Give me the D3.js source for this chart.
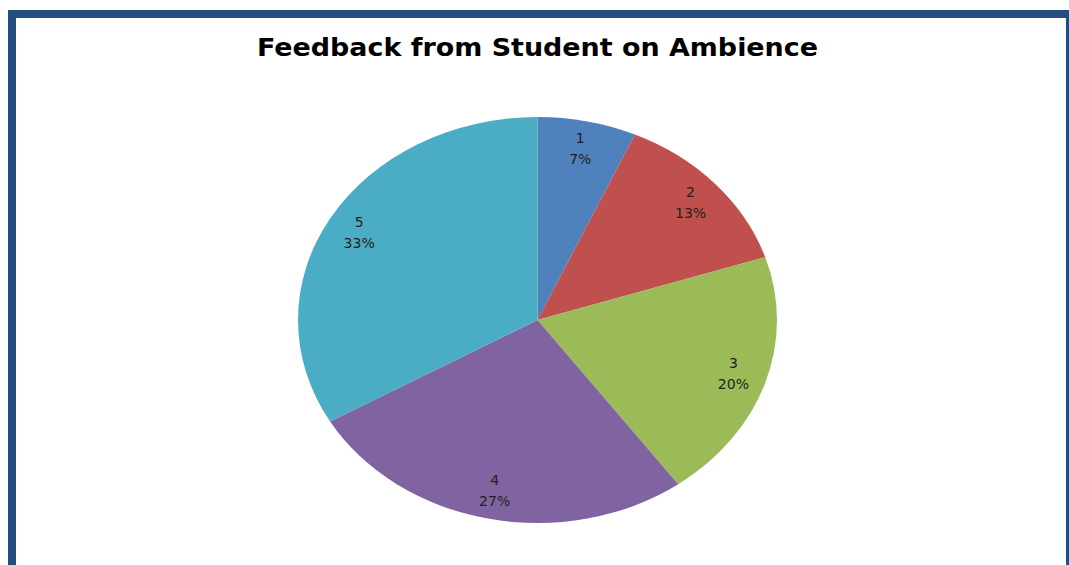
<!DOCTYPE html>
<meta charset="utf-8">
<script src="https://d3js.org/d3.v7.min.js"></script>
<style>
  body { margin: 0; background: #fff; }
</style>
<div id="chart"></div>
<script>
// ratings and how many students picked each
var ratings = ["1", "2", "3", "4", "5"];
var counts = [1, 2, 3, 4, 5];
var colors = ["#4F81BD", "#C0504D", "#9BBB59", "#8064A2", "#4BACC6"];

var width = 1069, height = 565;

var svg = d3.select("#chart")
  .append("svg")
    .attr("width", width)
    .attr("height", height);

// frame like the excel chart area
svg.append("rect").attr("x", 0).attr("y", 0).attr("width", width).attr("height", height).attr("fill", "#fff");
svg.append("rect").attr("x", 8).attr("y", 10).attr("width", 1061).attr("height", 8).attr("fill", "#244c7c");
svg.append("rect").attr("x", 8).attr("y", 10).attr("width", 8).attr("height", 555).attr("fill", "#244c7c");
svg.append("rect").attr("x", 1066).attr("y", 10).attr("width", 3).attr("height", 555).attr("fill", "#244c7c");

svg.append("text")
  .attr("x", 537.5)
  .attr("y", 56)
  .attr("text-anchor", "middle")
  .attr("textLength", 561)
  .attr("lengthAdjust", "spacingAndGlyphs")
  .style("font-family", "'DejaVu Sans', sans-serif")
  .style("font-weight", "bold")
  .style("font-size", "25px")
  .style("fill", "#000")
  .text("Feedback from Student on Ambience");

// pie is drawn as a circle then stretched into an ellipse
var rx = 239.5, ry = 203;
var cx = 537.5, cy = 320;

var total = d3.sum(counts);
var pie = d3.pie().sort(null).value(function(d) { return d; });
var arcs = pie(counts);

var arc = d3.arc().innerRadius(0).outerRadius(ry);
var labelArc = d3.arc().innerRadius(ry * 0.86).outerRadius(ry * 0.86);

var g = svg.append("g")
  .attr("transform", "translate(" + cx + "," + cy + ") scale(" + (rx / ry) + ",1)");

g.selectAll("path")
  .data(arcs)
  .enter()
  .append("path")
    .attr("d", arc)
    .attr("fill", function(d, i) { return colors[i]; })
    .attr("stroke", "none");

var labels = svg.append("g")
  .attr("transform", "translate(" + cx + "," + cy + ")")
  .selectAll("text")
  .data(arcs)
  .enter()
  .append("text")
    .attr("transform", function(d) {
      var c = labelArc.centroid(d);
      return "translate(" + (c[0] * rx / ry) + "," + (c[1] - 3) + ")";
    })
    .attr("text-anchor", "middle")
    .style("font-family", "'DejaVu Sans', sans-serif")
    .style("font-size", "14px")
    .style("fill", "#1f1f1f");

labels.append("tspan")
  .attr("x", 0)
  .attr("dy", "-0.2em")
  .text(function(d, i) { return ratings[i]; });

labels.append("tspan")
  .attr("x", 0)
  .attr("dy", "1.5em")
  .text(function(d) { return Math.round(d.value / total * 100) + "%"; });
</script>
